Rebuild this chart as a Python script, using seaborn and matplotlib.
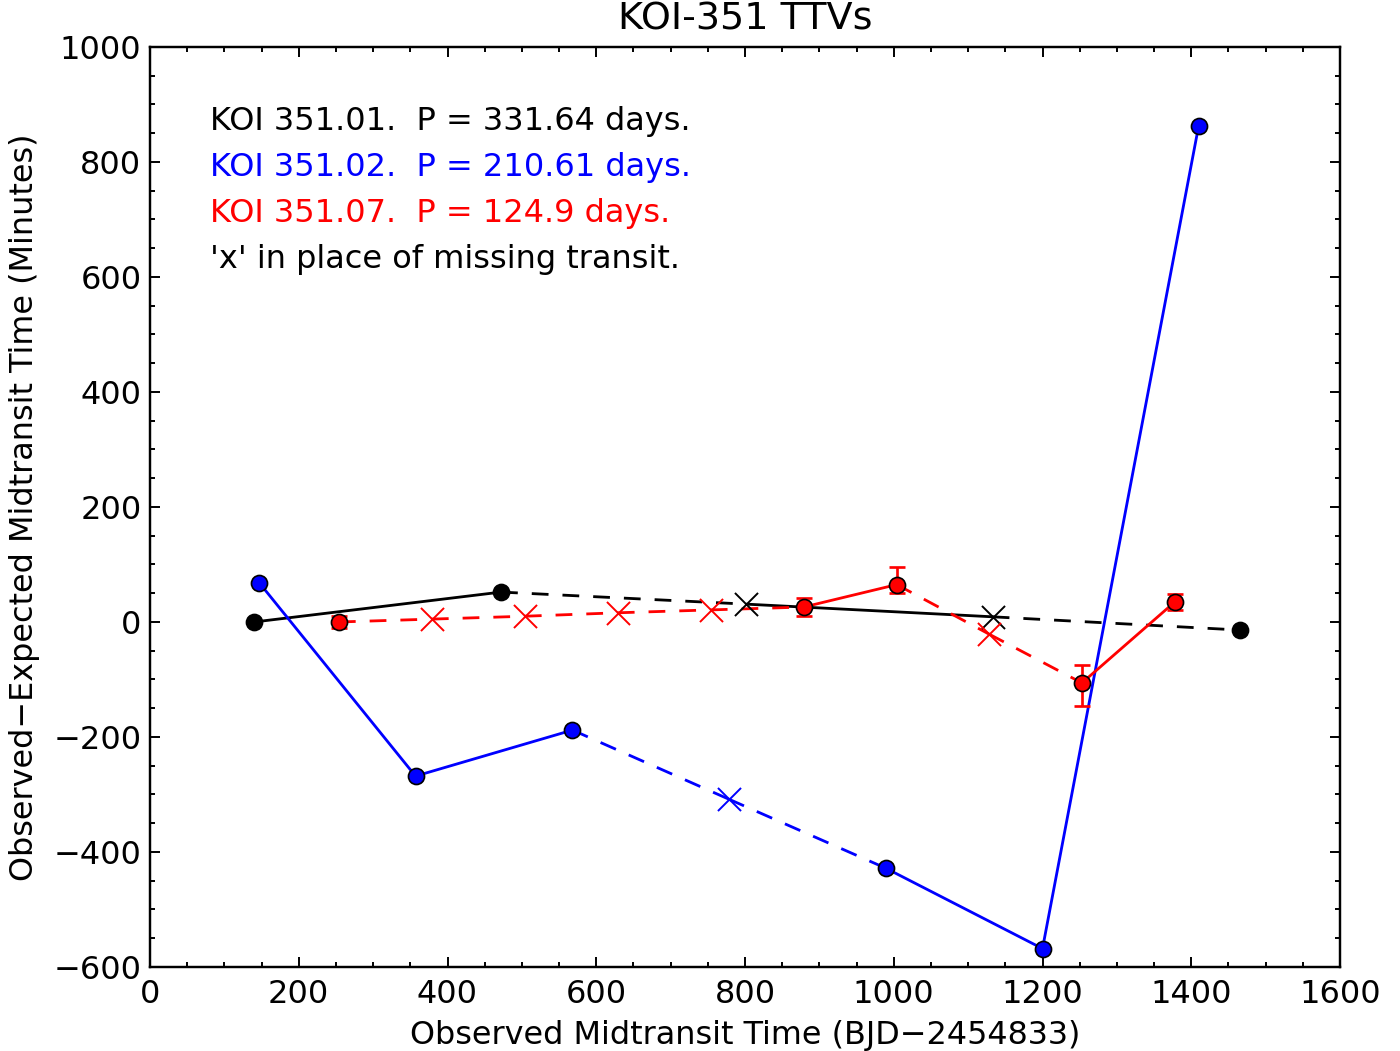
import numpy as np
import pandas as pd
import matplotlib
matplotlib.use("Agg")
import matplotlib.pyplot as plt
from matplotlib.ticker import MultipleLocator
import seaborn as sns

# datos: KOI 351.01 (negro)
t_01 = [140, 472, 802, 1133, 1465]
ttv_01 = [0, 52, 31, 9, -14]
obs_01 = [True, True, False, False, True]
seg_01 = ['-', '--', '-', '--']

# KOI 351.02 (azul)
t_02 = [147, 357, 568, 778, 989, 1200, 1410]
ttv_02 = [68, -268, -188, -308, -428, -568, 863]
obs_02 = [True, True, True, False, True, True, True]
seg_02 = ['-', '-', '--', '--', '-', '-']

# KOI 351.07 (rojo)
t_07 = [254, 379, 504, 629, 754, 879, 1004, 1128, 1253, 1378]
ttv_07 = [0, 5, 10, 16, 21, 26, 65, -21, -106, 35]
obs_07 = [True, False, False, False, False, True, True, False, True, True]
seg_07 = ['--', '--', '--', '--', '--', '-', '--', '--', '-']
err_lo_07 = [11, 0, 0, 0, 0, 15, 14, 0, 40, 14]
err_hi_07 = [11, 0, 0, 0, 0, 15, 31, 0, 31, 14]

labels = ["KOI 351.01.  P = 331.64 days.",
          "KOI 351.02.  P = 210.61 days.",
          "KOI 351.07.  P = 124.9 days.",
          "'x' in place of missing transit."]
label_colors = ['black', 'blue', 'red', 'black']
label_y = [870, 790, 710, 630]

sns.set_style("ticks")
plt.rcParams['font.family'] = ['DejaVu Sans']
plt.rcParams['axes.unicode_minus'] = True
plt.rcParams['text.color'] = 'black'
plt.rcParams['axes.labelcolor'] = 'black'

fig = plt.figure(figsize=(8, 6.006), dpi=175)
ax = fig.add_axes([150 / 1400, 1 - 967 / 1051, 1190 / 1400, 920 / 1051])


def plot_planet(t, ttv, obs, segs, color, err=None):
    df = pd.DataFrame({'t': t, 'ttv': ttv, 'obs': obs})
    # segmentos entre transitos consecutivos
    for i, ls in enumerate(segs):
        sub = df.iloc[i:i + 2]
        sns.lineplot(data=sub, x='t', y='ttv', ax=ax, color=color, lw=1.15,
                     sort=False, estimator=None, legend=False,
                     linestyle='-' if ls == '-' else (0, (6, 5)), zorder=2)
    if err is not None:
        lo, hi = err
        m = df['obs'].values
        ax.errorbar(df['t'][m], df['ttv'][m],
                    yerr=[np.array(lo)[m], np.array(hi)[m]],
                    fmt='none', ecolor=color, elinewidth=1.1, capsize=3.3,
                    capthick=1.1, zorder=3)
    seen = df[df['obs']]
    miss = df[~df['obs']]
    sns.scatterplot(data=seen, x='t', y='ttv', ax=ax, color=color, s=6.6 ** 2,
                    edgecolor='black', linewidth=0.7, marker='o', zorder=4,
                    legend=False)
    sns.scatterplot(data=miss, x='t', y='ttv', ax=ax, color=color, s=9.5 ** 2,
                    linewidth=0.8, marker='x', zorder=4, legend=False)


plot_planet(t_01, ttv_01, obs_01, seg_01, 'black')
plot_planet(t_02, ttv_02, obs_02, seg_02, 'blue')
plot_planet(t_07, ttv_07, obs_07, seg_07, 'red', err=(err_lo_07, err_hi_07))

for txt, c, y in zip(labels, label_colors, label_y):
    ax.text(80, y, txt, color=c, fontsize=13.2, va='center', ha='left')

ax.set_xlim(0, 1600)
ax.set_ylim(-600, 1000)
ax.xaxis.set_major_locator(MultipleLocator(200))
ax.xaxis.set_minor_locator(MultipleLocator(50))
ax.yaxis.set_major_locator(MultipleLocator(200))
ax.yaxis.set_minor_locator(MultipleLocator(50))
ax.tick_params(which='both', direction='in', top=True, right=True,
               labelsize=13.2, colors='black')
ax.tick_params(axis='x', which='both', pad=5)
ax.tick_params(axis='y', which='both', pad=3.5)
ax.tick_params(which='major', length=4, width=0.8)
ax.tick_params(which='minor', length=2, width=0.8)
for sp in ax.spines.values():
    sp.set_linewidth(1.0)
    sp.set_color('black')

ax.set_xlabel("Observed Midtransit Time (BJD\u22122454833)", fontsize=13.1,
              labelpad=4, color='black')
ax.set_ylabel("Observed\u2212Expected Midtransit Time (Minutes)", fontsize=13.1,
              labelpad=5.5, color='black')
ax.set_title("KOI-351 TTVs", fontsize=15.7, pad=7, color='black')

fig.savefig("out.png", dpi=175)
